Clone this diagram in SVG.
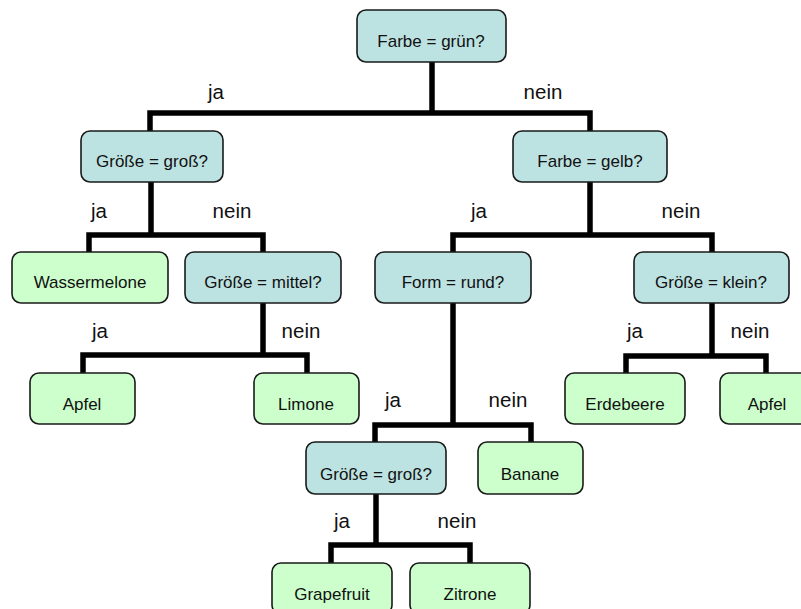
<svg xmlns="http://www.w3.org/2000/svg" width="801" height="609" viewBox="0 0 801 609">
  <style>
    .q rect { fill: #bde2e2; stroke: #1a1a1a; stroke-width: 1.6; }
    .leaf rect { fill: #ccffcc; stroke: #1a1a1a; stroke-width: 1.6; }
    .node text { font-family: "Liberation Sans", Arial, sans-serif; font-size: 17px; fill: #111; text-anchor: middle; }
    .edge { fill: none; stroke: #000; stroke-width: 5.5; stroke-linejoin: miter; stroke-linecap: butt; }
    .lbl { font-family: "Liberation Sans", Arial, sans-serif; font-size: 20.5px; fill: #111; text-anchor: middle; }
  </style>
  <rect width="801" height="609" fill="#ffffff"/>

  <!-- connectors -->
  <g id="connectors">
    <path class="edge" d="M432,62 V113 M150,131 V113 H590 V131"/>
    <path class="edge" d="M151,182 V235 M89,252 V235 H263 V252"/>
    <path class="edge" d="M590,182 V235 M453,252 V235 H712 V252"/>
    <path class="edge" d="M263,303 V355 M83,373 V355 H307 V373"/>
    <path class="edge" d="M712,303 V356 M626,373 V356 H766 V373"/>
    <path class="edge" d="M453,303 V425 M375,442 V425 H531 V442"/>
    <path class="edge" d="M376,494 V545 M331,563 V545 H470 V563"/>
  </g>

  <!-- branch labels -->
  <g id="labels">
    <text class="lbl" x="216" y="99">ja</text>
    <text class="lbl" x="543" y="99">nein</text>
    <text class="lbl" x="99" y="218">ja</text>
    <text class="lbl" x="232" y="218">nein</text>
    <text class="lbl" x="479" y="218">ja</text>
    <text class="lbl" x="681" y="218">nein</text>
    <text class="lbl" x="100" y="338">ja</text>
    <text class="lbl" x="301" y="338">nein</text>
    <text class="lbl" x="635" y="338">ja</text>
    <text class="lbl" x="750" y="338">nein</text>
    <text class="lbl" x="393" y="407">ja</text>
    <text class="lbl" x="508" y="407">nein</text>
    <text class="lbl" x="342" y="528">ja</text>
    <text class="lbl" x="457" y="528">nein</text>
  </g>

  <!-- decision nodes -->
  <g id="farbe-gruen" class="node q">
    <rect x="357" y="10" width="149" height="52" rx="9"/>
    <text x="431" y="47">Farbe = grün?</text>
  </g>
  <g id="groesse-gross" class="node q">
    <rect x="81" y="131" width="142" height="51" rx="9"/>
    <text x="152" y="167">Größe = groß?</text>
  </g>
  <g id="farbe-gelb" class="node q">
    <rect x="513" y="131" width="154" height="51" rx="9"/>
    <text x="590" y="167">Farbe = gelb?</text>
  </g>
  <g id="groesse-mittel" class="node q">
    <rect x="185" y="252" width="156" height="51" rx="9"/>
    <text x="263" y="288">Größe = mittel?</text>
  </g>
  <g id="form-rund" class="node q">
    <rect x="375" y="252" width="156" height="51" rx="9"/>
    <text x="453" y="288">Form = rund?</text>
  </g>
  <g id="groesse-klein" class="node q">
    <rect x="634" y="252" width="155" height="51" rx="9"/>
    <text x="711" y="288">Größe = klein?</text>
  </g>
  <g id="groesse-gross-2" class="node q">
    <rect x="306" y="442" width="140" height="52" rx="9"/>
    <text x="376" y="480">Größe = groß?</text>
  </g>

  <!-- leaf nodes -->
  <g id="wassermelone" class="node leaf">
    <rect x="12" y="252" width="156" height="51" rx="9"/>
    <text x="90" y="288">Wassermelone</text>
  </g>
  <g id="apfel-1" class="node leaf">
    <rect x="30" y="373" width="105" height="51" rx="9"/>
    <text x="82" y="410">Apfel</text>
  </g>
  <g id="limone" class="node leaf">
    <rect x="254" y="373" width="105" height="51" rx="9"/>
    <text x="306" y="410">Limone</text>
  </g>
  <g id="erdebeere" class="node leaf">
    <rect x="565" y="373" width="120" height="51" rx="9"/>
    <text x="625" y="410">Erdebeere</text>
  </g>
  <g id="apfel-2" class="node leaf">
    <rect x="720" y="373" width="105" height="51" rx="9"/>
    <text x="767" y="410">Apfel</text>
  </g>
  <g id="banane" class="node leaf">
    <rect x="478" y="442" width="105" height="52" rx="9"/>
    <text x="530" y="480">Banane</text>
  </g>
  <g id="grapefruit" class="node leaf">
    <rect x="272" y="563" width="120" height="51" rx="9"/>
    <text x="332" y="600">Grapefruit</text>
  </g>
  <g id="zitrone" class="node leaf">
    <rect x="410" y="563" width="120" height="51" rx="9"/>
    <text x="470" y="600">Zitrone</text>
  </g>
</svg>
